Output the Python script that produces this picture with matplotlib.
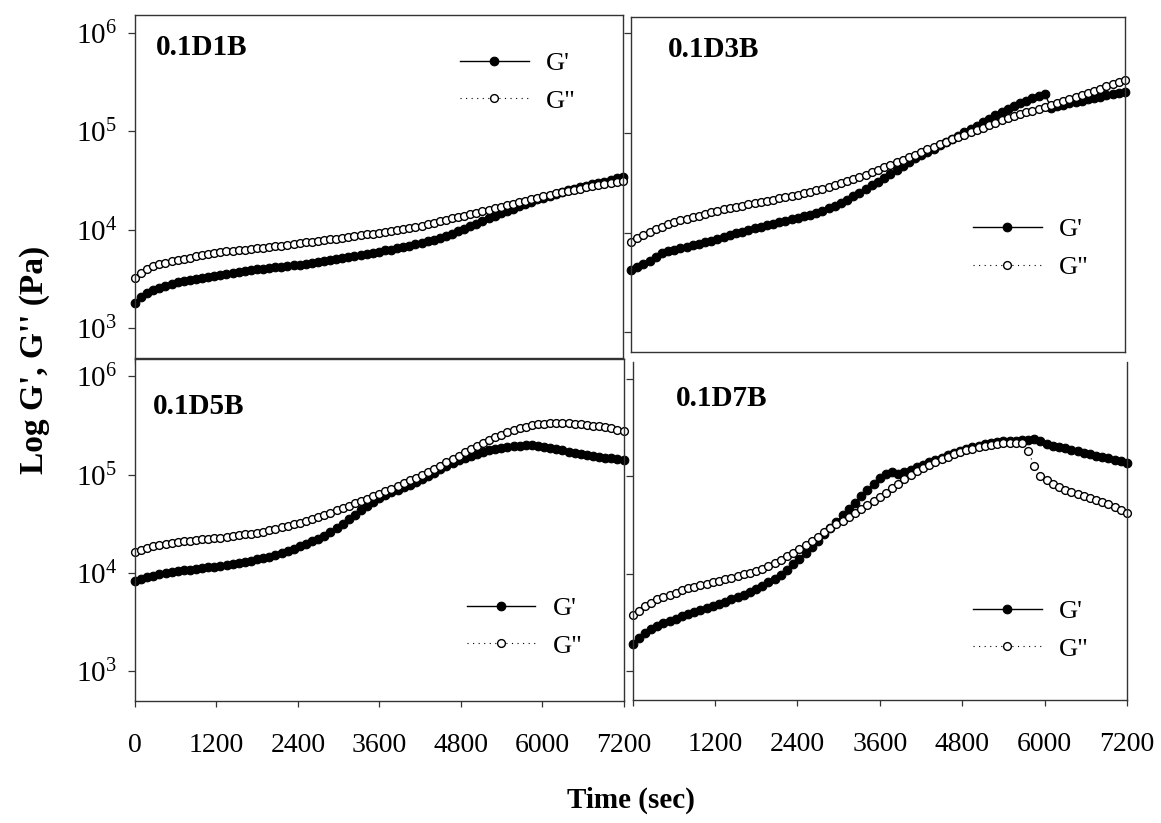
import numpy as np
import matplotlib
matplotlib.use("Agg")
import matplotlib.pyplot as plt
from matplotlib.ticker import NullLocator, FixedLocator

plt.rcParams['font.family'] = 'Liberation Serif'
plt.rcParams['mathtext.fontset'] = 'custom'
plt.rcParams['mathtext.rm'] = 'Liberation Serif'
plt.rcParams['mathtext.it'] = 'Liberation Serif:italic'
plt.rcParams['mathtext.bf'] = 'Liberation Serif:bold'

# time sweep, one reading every 90 s over two hours
time_s = np.arange(0, 7201, 90)

# log10 of G' and G'' (Pa) for each formulation
d1b_log_g1 = [3.26, 3.32, 3.36, 3.39, 3.41, 3.43, 3.45, 3.47, 3.48,
              3.49, 3.50, 3.51, 3.525, 3.535, 3.545, 3.55, 3.56, 3.57,
              3.58, 3.59, 3.60, 3.605, 3.61, 3.62, 3.625, 3.63, 3.64,
              3.645, 3.655, 3.665, 3.675, 3.685, 3.695, 3.705, 3.715, 3.725,
              3.735, 3.745, 3.755, 3.765, 3.778, 3.79, 3.80, 3.815, 3.827,
              3.84, 3.855, 3.87, 3.885, 3.90, 3.92, 3.94, 3.96, 3.99,
              4.01, 4.035, 4.06, 4.09, 4.115, 4.14, 4.167, 4.19, 4.215,
              4.24, 4.26, 4.285, 4.31, 4.325, 4.345, 4.365, 4.38, 4.40,
              4.415, 4.43, 4.445, 4.46, 4.475, 4.49, 4.51, 4.525, 4.54]
d1b_log_g2 = [3.51, 3.56, 3.60, 3.63, 3.65, 3.665, 3.68, 3.695, 3.705,
              3.715, 3.73, 3.74, 3.75, 3.765, 3.77, 3.78, 3.785, 3.79,
              3.80, 3.805, 3.812, 3.82, 3.825, 3.835, 3.84, 3.85, 3.858,
              3.865, 3.872, 3.88, 3.888, 3.895, 3.903, 3.91, 3.918, 3.927,
              3.935, 3.944, 3.953, 3.962, 3.971, 3.98, 3.99, 4.00, 4.01,
              4.02, 4.03, 4.04, 4.055, 4.07, 4.085, 4.10, 4.115, 4.13,
              4.145, 4.16, 4.175, 4.19, 4.205, 4.22, 4.235, 4.25, 4.265,
              4.28, 4.295, 4.31, 4.325, 4.34, 4.355, 4.37, 4.38, 4.393,
              4.405, 4.417, 4.43, 4.44, 4.45, 4.463, 4.475, 4.487, 4.498]

d3b_log_g1 = [3.63, 3.66, 3.69, 3.72, 3.76, 3.80, 3.815, 3.83, 3.845,
              3.86, 3.875, 3.89, 3.905, 3.92, 3.94, 3.96, 3.98, 3.995,
              4.01, 4.03, 4.045, 4.06, 4.075, 4.09, 4.105, 4.12, 4.135,
              4.15, 4.165, 4.18, 4.20, 4.22, 4.245, 4.27, 4.30, 4.33,
              4.365, 4.40, 4.44, 4.475, 4.513, 4.55, 4.59, 4.63, 4.67,
              4.71, 4.745, 4.78, 4.81, 4.84, 4.875, 4.905, 4.94, 4.97,
              5.005, 5.04, 5.075, 5.11, 5.145, 5.18, 5.215, 5.245, 5.275,
              5.30, 5.325, 5.35, 5.375, 5.395, 5.255, 5.27, 5.285, 5.30,
              5.31, 5.325, 5.34, 5.35, 5.365, 5.38, 5.39, 5.405, 5.415]
d3b_log_g2 = [3.91, 3.95, 3.98, 4.01, 4.035, 4.06, 4.085, 4.105, 4.125,
              4.14, 4.155, 4.17, 4.19, 4.205, 4.22, 4.235, 4.25, 4.26,
              4.27, 4.285, 4.295, 4.305, 4.318, 4.33, 4.345, 4.357, 4.37,
              4.383, 4.397, 4.41, 4.425, 4.44, 4.455, 4.475, 4.495, 4.515,
              4.535, 4.56, 4.58, 4.605, 4.63, 4.655, 4.68, 4.705, 4.73,
              4.757, 4.783, 4.81, 4.835, 4.86, 4.885, 4.91, 4.935, 4.957,
              4.98, 5.005, 5.03, 5.055, 5.08, 5.105, 5.131, 5.15, 5.17,
              5.19, 5.208, 5.225, 5.243, 5.26, 5.28, 5.30, 5.32, 5.34,
              5.36, 5.385, 5.405, 5.425, 5.445, 5.47, 5.49, 5.51, 5.532]

d5b_log_g1 = [3.92, 3.94, 3.96, 3.97, 3.985, 3.995, 4.005, 4.017, 4.025,
              4.032, 4.04, 4.048, 4.057, 4.065, 4.072, 4.08, 4.09, 4.10,
              4.11, 4.123, 4.137, 4.15, 4.167, 4.185, 4.205, 4.225, 4.248,
              4.27, 4.295, 4.32, 4.35, 4.38, 4.415, 4.46, 4.50, 4.545,
              4.59, 4.635, 4.68, 4.725, 4.763, 4.795, 4.82, 4.845, 4.87,
              4.895, 4.925, 4.96, 4.99, 5.02, 5.055, 5.09, 5.12, 5.145,
              5.17, 5.19, 5.21, 5.23, 5.245, 5.26, 5.271, 5.28, 5.29,
              5.295, 5.298, 5.297, 5.292, 5.285, 5.275, 5.262, 5.248, 5.233,
              5.22, 5.207, 5.197, 5.188, 5.18, 5.172, 5.165, 5.16, 5.153]
d5b_log_g2 = [4.21, 4.235, 4.255, 4.27, 4.285, 4.298, 4.308, 4.316, 4.322,
              4.328, 4.334, 4.34, 4.347, 4.354, 4.36, 4.367, 4.375, 4.383,
              4.392, 4.40, 4.408, 4.42, 4.432, 4.447, 4.462, 4.477, 4.495,
              4.512, 4.53, 4.55, 4.57, 4.59, 4.613, 4.637, 4.66, 4.683,
              4.706, 4.73, 4.755, 4.78, 4.803, 4.83, 4.857, 4.885, 4.912,
              4.94, 4.968, 4.995, 5.025, 5.058, 5.09, 5.125, 5.16, 5.193,
              5.225, 5.258, 5.29, 5.32, 5.35, 5.38, 5.407, 5.43, 5.45,
              5.47, 5.487, 5.50, 5.51, 5.516, 5.52, 5.524, 5.524, 5.52,
              5.515, 5.51, 5.503, 5.497, 5.49, 5.48, 5.47, 5.458, 5.447]

d7b_log_g1 = [3.28, 3.34, 3.39, 3.43, 3.46, 3.49, 3.51, 3.535, 3.56,
              3.583, 3.605, 3.625, 3.648, 3.67, 3.69, 3.71, 3.735, 3.76,
              3.785, 3.81, 3.84, 3.875, 3.91, 3.95, 3.99, 4.04, 4.095,
              4.155, 4.215, 4.275, 4.34, 4.405, 4.47, 4.535, 4.60, 4.665,
              4.73, 4.795, 4.86, 4.92, 4.98, 5.03, 5.05, 5.025, 5.045,
              5.07, 5.095, 5.12, 5.145, 5.17, 5.195, 5.22, 5.245, 5.265,
              5.285, 5.302, 5.318, 5.332, 5.344, 5.355, 5.36, 5.365, 5.37,
              5.374, 5.38, 5.385, 5.36, 5.335, 5.318, 5.303, 5.29, 5.275,
              5.26, 5.245, 5.23, 5.215, 5.20, 5.185, 5.17, 5.157, 5.143]
d7b_log_g2 = [3.576, 3.62, 3.665, 3.70, 3.735, 3.762, 3.785, 3.805, 3.83,
              3.85, 3.865, 3.88, 3.897, 3.913, 3.928, 3.945, 3.96, 3.975,
              3.993, 4.01, 4.027, 4.05, 4.08, 4.11, 4.145, 4.18, 4.217,
              4.255, 4.295, 4.335, 4.38, 4.425, 4.47, 4.51, 4.545, 4.58,
              4.62, 4.665, 4.71, 4.752, 4.793, 4.835, 4.88, 4.925, 4.97,
              5.01, 5.055, 5.09, 5.12, 5.15, 5.18, 5.205, 5.23, 5.25,
              5.268, 5.285, 5.30, 5.315, 5.327, 5.338, 5.345, 5.348, 5.348,
              5.342, 5.26, 5.11, 5.005, 4.96, 4.925, 4.895, 4.865, 4.84,
              4.82, 4.80, 4.78, 4.76, 4.74, 4.712, 4.685, 4.658, 4.629]

samples = ["0.1D1B", "0.1D3B", "0.1D5B", "0.1D7B"]
storage = [d1b_log_g1, d3b_log_g1, d5b_log_g1, d7b_log_g1]
loss = [d1b_log_g2, d3b_log_g2, d5b_log_g2, d7b_log_g2]
time_ticks = [0, 1200, 2400, 3600, 4800, 6000, 7200]
modulus_ticks = [1e3, 1e4, 1e5, 1e6]

W, H = 1161, 823
fig = plt.figure(figsize=(W / 100, H / 100), dpi=100)


def px_axes(left, top, right, bottom):
    return fig.add_axes([left / W, 1 - bottom / H, (right - left) / W, (bottom - top) / H])


# panel boxes in pixels (left, top, right, bottom) and log10 y limits
boxes = [(135, 15, 622.7, 357.5), (631, 17.3, 1125, 351.7),
         (135, 358.5, 623.5, 701), (632.5, 361.5, 1127, 700)]
ylims = [(2.704, 6.18), (2.807, 6.16), (2.698, 6.18), (2.70, 6.183)]
title_pos = [(156, 47.5), (668, 49.7), (153, 407), (676, 398.3)]
legend_pos = [(460, 82), (973, 248.6), (466.7, 627), (973, 630)]

for k in range(4):
    ax = px_axes(*boxes[k])
    g1 = 10 ** np.array(storage[k])
    g2 = 10 ** np.array(loss[k])
    ax.plot(time_s, g1, '-', color='k', lw=1.0, marker='o', ms=6.2,
            mfc='k', mec='k', mew=0.8, clip_on=False, label="G'")
    ax.plot(time_s, g2, color='k', lw=0.8, dashes=(1, 4), marker='o', ms=5.6,
            mfc='white', mec='k', mew=1.0, clip_on=False, label='G"')
    ax.set_yscale('log')
    ax.set_xlim(0, 7200)
    ax.set_ylim(10 ** ylims[k][0], 10 ** ylims[k][1])
    ax.yaxis.set_major_locator(FixedLocator(modulus_ticks))
    ax.yaxis.set_minor_locator(NullLocator())
    ax.set_xticks(time_ticks)
    for sp in ax.spines.values():
        sp.set_linewidth(1.0)
        sp.set_color('#333333')
    ax.tick_params(axis='y', direction='out', length=5, width=0.9,
                   color='#333333', labelsize=21, pad=8)
    ax.tick_params(axis='x', direction='out', length=4, width=0.9,
                   color='#333333', labelsize=20, pad=19)
    if k in (1, 3):
        ax.tick_params(axis='y', labelleft=False)
    if k < 2:
        ax.tick_params(axis='x', labelbottom=False)
    if k == 1:
        ax.tick_params(axis='x', length=0)
    if k == 3:
        ax.spines['top'].set_visible(False)
        ax.set_xticklabels([''] + [str(t) for t in time_ticks[1:]])
    lx, ly = legend_pos[k]
    ax.legend(loc='center left', bbox_to_anchor=(lx / W, 1 - ly / H),
              bbox_transform=fig.transFigure, frameon=False, numpoints=1,
              handlelength=2.6, handletextpad=0.65, labelspacing=0.54,
              borderpad=0, borderaxespad=0, fontsize=19, markerscale=1.0)
    tx, ty = title_pos[k]
    fig.text(tx / W, 1 - ty / H, samples[k], ha='left', va='center',
             fontsize=21, fontweight='bold')

fig.text(35 / W, 1 - 360 / H, "Log G', G'' (Pa)", rotation=90, ha='center',
         va='center', fontsize=24, fontweight='bold')
fig.text(631 / W, 1 - 800 / H, "Time (sec)", ha='center', va='center',
         fontsize=21, fontweight='bold')

fig.savefig("out.png", dpi=100)
